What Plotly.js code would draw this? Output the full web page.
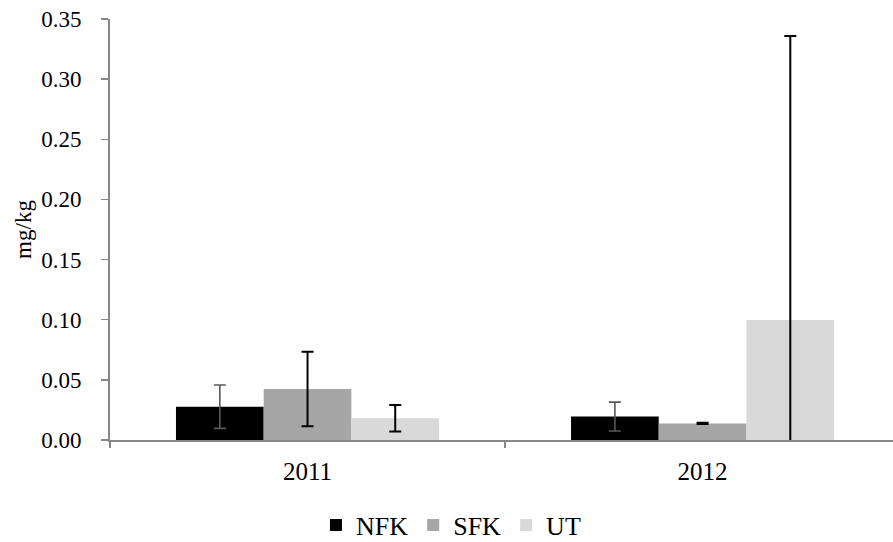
<!DOCTYPE html>
<html>
<head>
<meta charset="utf-8">
<script src="https://cdn.plot.ly/plotly-3.0.1.min.js"></script>
<style>html,body{margin:0;padding:0;background:#fff;}#chart{width:893px;height:542px;}</style>
</head>
<body>
<div id="chart"></div>
<script>
var years = ["2011", "2012"];
var seriesNames = ["NFK", "SFK", "UT"];
var nfk = [0.0277, 0.0195];
var nfkErr = [0.018, 0.012];
var sfk = [0.0424, 0.0138];
var sfkErr = [0.031, 0.0006];
var ut = [0.018, 0.0998];
var utErr = [0.011, 0.236];
var yTicks = [0, 0.05, 0.10, 0.15, 0.20, 0.25, 0.30, 0.35];
var yTickText = ["0.00", "0.05", "0.10", "0.15", "0.20", "0.25", "0.30", "0.35"];

var font = "Liberation Serif";

function bar(name, vals, errs, color, errColor, errThick) {
  return {
    type: "bar", name: name, x: years, y: vals,
    marker: {color: color, line: {width: 0}},
    error_y: {type: "data", array: errs, visible: true, color: errColor, thickness: errThick, width: 6},
    cliponaxis: true
  };
}

var data = [
  bar(seriesNames[0], nfk, nfkErr, "#000000", "#595959", 1.6),
  bar(seriesNames[1], sfk, sfkErr, "#a6a6a6", "#000000", 2),
  bar(seriesNames[2], ut, utErr, "#d9d9d9", "#000000", 2)
];

var layout = {
  width: 893, height: 542,
  margin: {l: 110, r: 0, t: 19, b: 102, pad: 0},
  paper_bgcolor: "#ffffff", plot_bgcolor: "#ffffff",
  font: {family: font, color: "#000000", size: 23},
  barmode: "group", bargap: 0.334, bargroupgap: 0,
  showlegend: true,
  legend: {orientation: "h", xref: "container", yref: "container",
           x: 0.505, xanchor: "center", y: 0.031, yanchor: "middle",
           font: {family: font, size: 26, color: "#000"}, itemwidth: 30, tracegroupgap: 0},
  xaxis: {
    type: "category", range: [-0.5, 1.482],
    showline: true, linecolor: "#868686", linewidth: 2,
    ticks: "outside", ticklen: 6, tickcolor: "#868686", tickwidth: 1.5,
    tickson: "boundaries", showgrid: false, zeroline: false,
    tickfont: {family: font, size: 25, color: "#000"},
    ticklabelstandoff: 8,
    automargin: false
  },
  yaxis: {
    range: [0, 0.35], tickvals: yTicks, ticktext: yTickText,
    showline: true, linecolor: "#868686", linewidth: 2,
    ticks: "outside", ticklen: 7, tickcolor: "#868686", tickwidth: 1.5,
    showgrid: false, zeroline: false,
    tickfont: {family: font, size: 23, color: "#000"},
    ticklabelstandoff: 15,
    title: {text: "mg/kg", font: {family: font, size: 23, color: "#000"}, standoff: 3},
    automargin: false
  }
};

Plotly.newPlot("chart", data, layout, {displayModeBar: false, staticPlot: true});
</script>
</body>
</html>
